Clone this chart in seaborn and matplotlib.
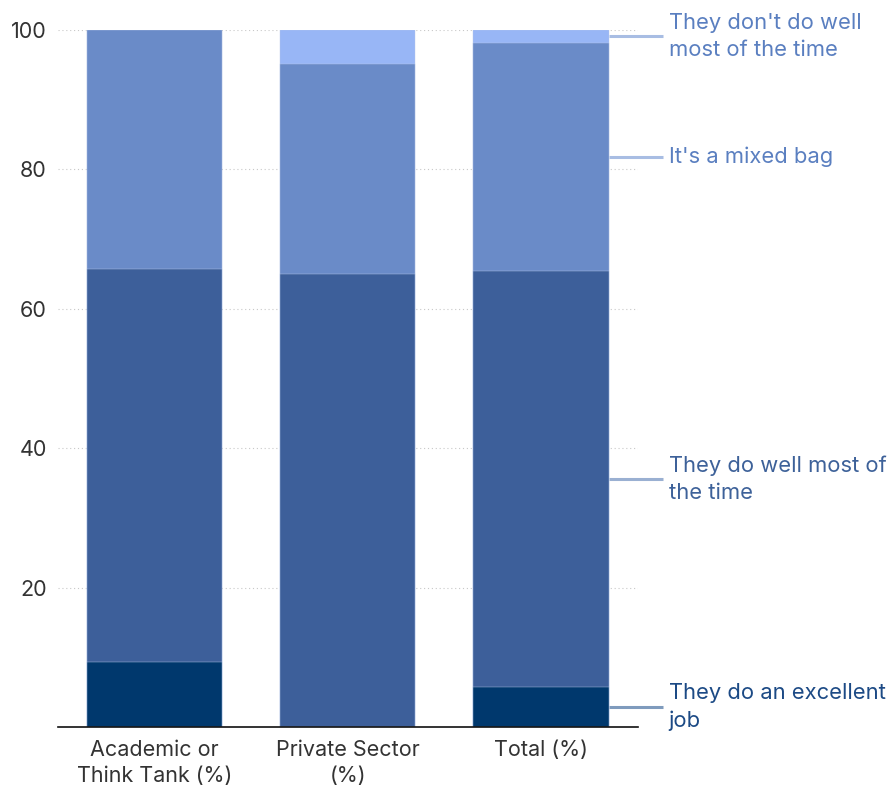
import numpy as np
import pandas as pd
import matplotlib
matplotlib.use("Agg")
import matplotlib.pyplot as plt
import seaborn as sns

categories = ["Academic or\nThink Tank (%)", "Private Sector\n(%)", "Total (%)"]
series_names = [
    "They do an excellent\njob",
    "They do well most of\nthe time",
    "It's a mixed bag",
    "They don't do well\nmost of the time",
]
excellent = [9.375, 0.0, 5.77]
well = [56.25, 65.0, 59.62]
mixed = [34.375, 30.0, 32.69]
not_well = [0.0, 5.0, 1.92]

bar_colors = ["#00386d", "#3d5f9a", "#6a8bc8", "#98b6f6"]
label_colors = ["#1c4a85", "#3d6199", "#5a7fc0", "#5a7fc0"]
line_colors = ["#7f9bbd", "#9ab0d2", "#a8bde3", "#a8bde3"]
y_ticks = [20, 40, 60, 80, 100]

sns.set_style("white")
plt.rcParams["font.family"] = ["Inter", "DejaVu Sans"]

layers = [excellent, well, mixed, not_well]
cum = np.cumsum(np.array(layers), axis=0)

fig = plt.figure(figsize=(8.93, 7.89), dpi=100)
ax = fig.add_axes([0.065, 0.078, 0.649, 0.8846])

# Stacked bars: draw cumulative totals from the top layer down
for i in range(len(layers) - 1, -1, -1):
    df = pd.DataFrame({"cat": categories, "val": cum[i]})
    sns.barplot(data=df, x="cat", y="val", color=bar_colors[i], width=0.7,
                saturation=1, edgecolor="#b9c9e8", linewidth=0.3, ax=ax, zorder=2)

ax.set_xlim(-0.5, 2.5)
ax.set_ylim(0, 100)
ax.set_yticks(y_ticks)
ax.set_yticklabels([str(t) for t in y_ticks])
ax.set_xlabel("")
ax.set_ylabel("")
ax.grid(axis="y", linestyle=(0, (1, 2.5)), color="#c8c8c8", linewidth=0.8, zorder=0)
ax.set_axisbelow(True)
for s in ["top", "right", "left"]:
    ax.spines[s].set_visible(False)
ax.spines["bottom"].set_color("#111111")
ax.spines["bottom"].set_linewidth(1.2)
ax.tick_params(axis="y", length=0, labelsize=15.5, labelcolor="#333333", pad=8)
ax.tick_params(axis="x", length=0, labelsize=15.5, labelcolor="#333333", pad=9)
for lbl in ax.get_xticklabels():
    lbl.set_linespacing(1.4)

# Series labels next to the Total bar, at each segment's midpoint
last = len(categories) - 1
bottoms = np.vstack([np.zeros(len(categories)), cum[:-1]])
for i, name in enumerate(series_names):
    mid = bottoms[i][last] + layers[i][last] / 2
    ax.plot([last + 0.35, last + 0.63], [mid, mid], color=line_colors[i],
            linewidth=2.2, clip_on=False, solid_capstyle="butt", zorder=3)
    ax.text(last + 0.66, mid, name, color=label_colors[i], fontsize=15.8,
            va="center", ha="left", linespacing=1.45, clip_on=False)

fig.savefig("out.png", dpi=100)
